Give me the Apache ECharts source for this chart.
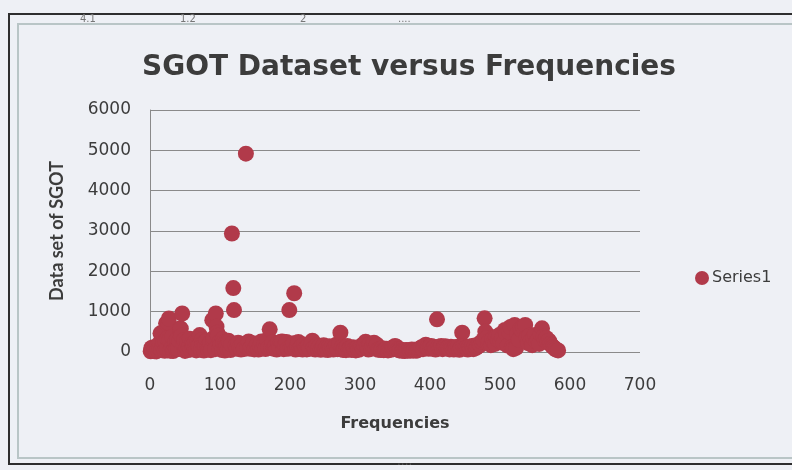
<!DOCTYPE html>
<html>
<head>
<meta charset="utf-8">
<script src="https://cdn.jsdelivr.net/npm/echarts@6/dist/echarts.min.js"></script>
<style>
html,body{margin:0;padding:0;background:#eef0f5;}
#chart{width:792px;height:470px;}
</style>
</head>
<body>
<div id="chart"></div>
<script>
const chartTitle = 'SGOT Dataset versus Frequencies';
const xAxisTitle = 'Frequencies';
const yAxisTitle = 'Data set of SGOT';
const seriesName = 'Series1';
const xTicks = [0, 100, 200, 300, 400, 500, 600, 700];
const yTicks = [0, 1000, 2000, 3000, 4000, 5000, 6000];

const freq = [
  1,2,3,5,6,7,9,10,11,13,14,15,16,17,18,19,21,22,23,24,25,26,27,28,29,31,32,33,35,36,37,38,39,40,42,43,44,45,46,48,49,50,52,53,54,56,57,58,60,
  61,62,64,65,66,68,69,70,71,73,74,75,77,78,79,81,82,83,85,86,87,89,90,91,93,94,95,96,97,99,100,101,103,104,105,107,108,109,111,112,113,115,116,117,119,120,
  122,124,126,128,130,132,134,137,139,141,143,145,147,149,151,153,155,157,159,161,163,165,167,169,171,173,175,177,179,181,183,185,187,189,191,193,195,197,199,201,203,205,206,208,210,
  212,214,216,218,220,222,224,226,228,230,232,234,236,238,240,242,244,246,248,250,252,254,256,258,260,262,264,266,268,270,272,274,276,278,280,282,284,286,288,290,292,294,296,298,300,
  302,304,306,308,310,312,314,316,318,320,322,324,326,328,330,332,334,336,338,340,342,344,346,348,350,352,354,356,358,360,362,364,366,368,370,372,374,376,378,380,382,384,386,388,390,392,394,396,398,400,
  402,404,406,408,410,412,414,416,418,420,422,424,426,428,430,432,434,436,438,440,442,444,446,448,450,452,454,456,458,460,462,464,466,468,470,472,474,476,478,479,481,483,485,487,489,491,493,495,497,499,501,
  503,505,507,509,511,513,515,517,519,521,523,525,527,529,531,533,536,538,540,542,544,546,548,550,552,554,556,558,560,562,564,566,568,570,572,574,576,578,580,583
];
const sgot = [
  18,100,68,120,20,59,14,130,56,110,230,463,53,441,150,245,28,260,710,66,340,731,830,300,30,111,380,23,57,250,80,77,320,73,280,587,576,400,955,178,300,27,110,260,47,150,330,60,200,
  120,180,95,260,40,260,150,130,420,55,300,210,35,240,150,280,120,60,120,230,45,790,300,350,70,955,627,480,400,90,260,180,50,320,230,35,210,140,70,280,250,48,190,2938,1584,1040,
  160,80,230,120,60,200,75,4918,110,260,80,130,220,65,120,180,60,150,260,90,200,75,300,110,563,100,240,80,150,60,230,110,255,260,70,180,250,80,1040,120,90,220,1456,60,150,
  250,80,130,60,180,95,65,160,80,230,280,110,60,160,75,140,55,100,170,65,120,50,140,80,130,60,110,180,70,200,480,120,50,85,45,150,70,95,50,120,65,40,100,55,80,
  160,90,180,255,110,60,200,80,150,230,90,180,55,70,50,90,45,65,80,40,70,55,100,120,150,130,60,40,60,30,45,25,50,35,45,30,60,40,55,30,45,60,90,120,70,150,180,100,80,130,
  150,80,120,60,810,130,100,150,70,120,140,90,110,65,130,100,60,120,80,130,55,100,480,140,80,110,60,130,90,150,70,160,100,140,200,170,250,300,835,505,350,220,280,170,320,240,200,380,300,420,250,
  350,220,545,450,160,500,620,120,70,670,100,450,300,580,550,620,670,350,220,400,280,170,350,420,250,300,200,450,587,380,300,350,250,280,200,160,120,90,60,40
];

const points = freq.map((f, i) => [f, sgot[i]]);

const chart = echarts.init(document.getElementById('chart'), null, {renderer: 'canvas'});
const labelFont = 'DejaVu Sans';
const textColor = '#3c3c3c';
const plain = v => String(v);
const option = {
  backgroundColor: '#eef0f5',
  animation: false,
  title: {
    text: chartTitle,
    left: 404,
    textAlign: 'center',
    top: 49,
    textStyle: {fontFamily: labelFont, fontWeight: 'bold', fontSize: 28, color: textColor}
  },
  legend: {
    data: [{name: seriesName, icon: 'circle'}],
    left: 690,
    top: 265,
    itemWidth: 14,
    itemHeight: 14,
    itemGap: 4,
    textStyle: {fontFamily: labelFont, fontSize: 16, color: textColor, padding: [0,0,0,-2]}
  },
  grid: {left: 150, right: 152, top: 110, bottom: 118, containLabel: false},
  xAxis: {
    type: 'value', min: xTicks[0], max: xTicks[xTicks.length - 1], interval: 100,
    name: xAxisTitle, nameLocation: 'middle', nameGap: 64,
    nameTextStyle: {fontFamily: labelFont, fontWeight: 'bold', fontSize: 16, color: textColor},
    axisLine: {show: false}, axisTick: {show: false},
    axisLabel: {margin: 25, fontFamily: labelFont, fontSize: 17, color: textColor, formatter: plain},
    splitLine: {show: false}
  },
  yAxis: {
    type: 'value', min: yTicks[0], max: yTicks[yTicks.length - 1], interval: 1000,
    name: yAxisTitle, nameLocation: 'middle', nameGap: 84, nameRotate: 90,
    nameTextStyle: {fontFamily: 'Lato', fontWeight: 'bold', fontSize: 18, color: textColor},
    axisLine: {show: true, lineStyle: {color: '#8a8a8a', width: 1}}, axisTick: {show: false},
    axisLabel: {margin: 19, fontFamily: labelFont, fontSize: 17, color: textColor, formatter: plain},
    splitLine: {show: true, lineStyle: {color: '#8a8a8a', width: 1}}
  },
  series: [{
    name: seriesName,
    type: 'scatter',
    data: points,
    symbolSize: 16,
    itemStyle: {color: '#b13a4a', opacity: 1}
  }],
  graphic: [
    {type: 'rect', z: 3, silent: true, shape: {x: 9, y: 14, width: 790, height: 450}, style: {fill: null, stroke: '#2e2e2e', lineWidth: 2}},
    {type: 'rect', z: 3, silent: true, shape: {x: 18, y: 24, width: 780, height: 434}, style: {fill: null, stroke: '#b9c5c6', lineWidth: 2}},
    {type: 'text', z: 4, silent: true, x: 80, y: 14, style: {text: '4.1', fontSize: 10, fontFamily: 'DejaVu Sans', fill: '#777'}},
    {type: 'text', z: 4, silent: true, x: 180, y: 14, style: {text: '1.2', fontSize: 10, fontFamily: 'DejaVu Sans', fill: '#777'}},
    {type: 'text', z: 4, silent: true, x: 300, y: 14, style: {text: '2', fontSize: 10, fontFamily: 'DejaVu Sans', fill: '#777'}},
    {type: 'text', z: 4, silent: true, x: 398, y: 14, style: {text: '....', fontSize: 10, fontFamily: 'DejaVu Sans', fill: '#777'}},
    {type: 'text', z: 5, silent: true, x: 397, y: 456, style: {text: '....', fontSize: 12, fontFamily: 'DejaVu Sans', fill: '#555'}}
  ]
};
chart.setOption(option);
</script>
</body>
</html>
